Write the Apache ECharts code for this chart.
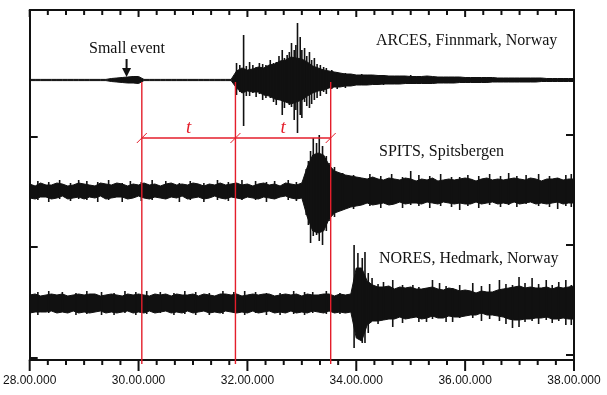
<!DOCTYPE html>
<html><head><meta charset="utf-8">
<script src="https://cdn.jsdelivr.net/npm/echarts@6/dist/echarts.min.js"></script>
<style>html,body{margin:0;padding:0;background:#fff}#c{width:607px;height:395px}</style>
</head><body><div id="c"></div>
<script>
// ---- data ----
const TICK_LABELS = ['28.00.000','30.00.000','32.00.000','34.00.000','36.00.000','38.00.000'];
const MAJOR_TICKS = [28, 30, 32, 34, 36, 38];
const MINOR_TICKS = [28.333,28.667,29,29.333,29.667,30.333,30.667,31,31.333,31.667,32.333,32.667,33,33.333,33.667,
  34.333,34.667,35,35.333,35.667,36.333,36.667,37,37.333,37.667];
const STATIONS = ['ARCES, Finnmark, Norway','SPITS, Spitsbergen','NORES, Hedmark, Norway'];
const EVENT_LABEL = 'Small event';
const TIME_START = 28, TIME_STEP = 0.1;          // sample grid of the envelopes
const OFFSETS = [280, 169, 57];                   // trace baselines (amplitude units)

// envelopes (amplitude above / below the baseline), one value per 0.1 time unit
const ARCES_UP = [0.6,0.6,0.6,0.6,0.6,0.6,0.6,0.6,0.6,0.6,0.6,0.6,0.6,0.6,0.6,
  1.5,2,2.5,3,3.5,3.5,
  0.6,0.6,0.6,0.6,0.6,0.6,0.6,0.6,0.6,0.6,0.6,0.6,0.6,0.6,0.6,0.6,0.6,
  9,12,10,11,13,12,15,16,19,20,23,22,21,18,14,12,10,9,8,7,6,6,5,
  5,5,5,4.5,4.5,4,4,4,4,3.5,3.5,3.5,4,3.5,3,3,3,3,3,2.5,2.5,2.5,2.5,2.5,2.5,2,2,2,2,2,2,2,2,2,1.5,1.5,1.5,1.5,1.5,1.5];
const ARCES_DN = [0.6,0.6,0.6,0.6,0.6,0.6,0.6,0.6,0.6,0.6,0.6,0.6,0.6,0.6,0.6,
  1.5,2,2.5,3,3,3.5,
  0.6,0.6,0.6,0.6,0.6,0.6,0.6,0.6,0.6,0.6,0.6,0.6,0.6,0.6,0.6,0.6,0.6,
  8,13,11,12,12,15,16,19,20,22,24,22,20,16,13,11,10,8,7,7,6,6,5,
  5,5,4.5,4.5,4,4,4,4,3.5,3.5,3.5,3.5,3.5,3.5,3,3,3,3,2.5,2.5,2.5,2.5,2.5,2.5,2,2,2,2,2,2,2,2,2,1.5,1.5,1.5,1.5,1.5,1.5,1.5];
const SPITS_UP = [7,5,8,6,6,8,7,5,6,8,7,6,5,8,7,6,8,7,5,7,6,8,6,7,5,7,8,6,7,6,8,7,5,7,6,8,6,7,8,6,7,5,7,8,6,7,5,8,7,6,8,
  24,36,38,36,26,20,18,16,15,14,
  13,12,14,12,11,13,12,11,13,12,10,12,11,13,10,11,12,11,12,13,12,10,12,13,11,12,11,12,13,12,11,13,12,10,12,12,13,11,12,12];
const SPITS_DN = [7,8,6,6,8,7,5,8,7,6,8,6,7,5,8,7,6,6,8,7,5,7,8,6,7,8,6,7,5,8,7,6,8,7,5,7,8,6,7,8,6,7,8,6,7,8,6,5,7,8,7,
  26,40,42,40,28,22,20,18,16,15,
  14,12,14,13,12,14,13,11,13,12,12,13,11,12,13,11,12,13,12,13,13,11,13,12,11,13,12,13,11,13,12,11,13,12,13,12,11,13,12,12];
const NORES_UP = [8,9,7,8,9,8,9,7,8,9,8,9,9,7,8,9,8,7,9,8,9,8,7,9,8,9,7,9,8,8,9,7,9,8,7,9,9,8,9,7,8,9,8,9,9,7,8,9,8,9,7,9,8,8,9,9,7,9,8,9,
  35,35,22,
  18,16,16,17,14,16,15,16,14,14,15,16,14,13,15,14,12,13,
  12,10,12,11,11,13,14,
  15,16,17,15,16,15,
  15,16,14,16,15,16,17];
const NORES_DN = [10,9,9,9,8,10,9,10,8,10,9,10,9,8,10,9,10,9,8,10,9,10,8,10,9,8,10,9,10,8,10,9,8,10,9,10,8,9,10,9,10,8,10,9,8,10,9,10,8,10,9,10,8,9,10,8,10,9,10,9,
  35,38,22,
  18,18,17,16,16,14,16,15,14,16,15,13,15,15,13,14,14,13,
  12,12,10,12,12,13,14,
  16,17,17,16,16,15,
  15,14,16,16,15,16,16];

// individual peaks: [time, amplitude up, amplitude down]
const ARCES_PEAKS = [[31.80,17,15],[31.86,15,12],[31.93,45,46],[31.98,14,16],[32.04,18,16],[32.10,15,13],[32.16,13,17],
  [32.22,17,14],[32.28,16,20],[32.34,15,18],[32.42,20,18],[32.48,17,22],[32.53,18,25],[32.58,24,20],
  [32.64,30,35],[32.68,22,28],[32.73,25,22],[32.77,28,25],[32.81,37,27],[32.86,30,40],[32.89,35,30],[32.92,57,53],
  [32.97,43,35],[33.00,30,38],[33.05,32,22],[33.09,24,26],[33.14,28,28],[33.18,20,24],[33.23,22,20],[33.28,16,18],
  [33.34,15,16],[33.40,13,12],[33.45,12,14],[33.55,10,9],[33.65,8,9],[33.80,7,8],[34.1,6,5],[34.5,5,5],[35.0,5,4]];
const SPITS_PEAKS = [[28.15,10,9],[28.35,9,11],[28.55,11,8],[28.75,8,10],[28.9,11,8],[29.05,10,9],[29.25,9,11],
  [29.45,11,9],[29.7,8,11],[29.85,10,8],[30.05,9,10],[30.25,11,9],[30.5,10,8],[30.75,8,11],[30.95,10,9],
  [31.2,8,11],[31.45,11,9],[31.65,9,10],[31.9,11,9],[32.15,10,9],[32.35,9,11],[32.5,10,8],[32.75,11,9],[32.9,9,10],
  [33.08,22,24],[33.12,30,34],[33.16,40,52],[33.21,53,45],[33.27,48,44],[33.32,56,50],[33.38,45,54],[33.45,35,40],
  [33.5,28,30],[33.6,24,26],[33.75,18,17],[33.95,16,18],[34.25,17,15],[34.45,15,17],[34.65,17,14],[34.85,14,17],[35.0,20,14],
  [35.15,16,15],[35.35,15,17],[35.55,17,15],[35.75,14,16],[35.9,14,19],[36.05,16,15],[36.25,15,17],[36.45,17,14],
  [36.65,15,16],[36.8,18,14],[36.95,15,16],[37.12,16,13],[37.35,17,15],[37.55,15,16],[37.7,13,18],[37.85,16,15],[37.95,17,16]];
const NORES_PEAKS = [[28.15,11,12],[28.35,12,10],[28.6,11,9],[28.85,10,12],[29.05,12,11],[29.32,11,12],[29.55,10,12],
  [29.75,12,10],[29.95,11,12],[30.15,12,11],[30.4,11,10],[30.65,10,12],[30.85,12,11],[31.05,11,12],[31.3,10,12],
  [31.55,12,11],[31.75,11,10],[31.95,12,12],[32.15,11,10],[32.35,10,12],[32.6,10,12],[32.85,12,11],[33.05,11,12],
  [33.2,11,10],[33.45,12,11],[33.7,10,11],
  [33.96,58,45],[34.03,50,34],[34.11,45,40],[34.16,51,40],[34.22,30,30],
  [34.29,25,18],[34.4,19,21],[34.5,21,17],[34.67,23,24],[34.85,18,20],[35.04,18,15],[35.15,16,19],[35.29,15,19],
  [35.4,23,16],[35.53,20,15],[35.65,17,19],[35.77,15,19],[35.9,18,15],[36.14,20,15],[36.3,17,18],[36.45,19,16],
  [36.63,23,18],[36.75,19,21],[36.87,18,25],[36.99,26,24],[37.1,20,19],[37.23,25,18],[37.35,19,21],[37.49,23,17],
  [37.6,18,20],[37.72,21,18],[37.85,23,22],[37.95,18,22]];

// annotation values
const MARK_TIMES = [30.06, 31.78, 33.53];
const MARK_TOP = 278, MARK_BOTTOM = -4, MARK_LEVEL = 222;
const ARROW_TIME = 29.78, ARROW_TIP = 283, ARROW_TAIL = 301;
const Y_MIN = 0, Y_MAX = 350;

// ---- chart ----
const INK = '#111', RED = '#e41e2b';
function traceSeries(up, dn, off) {
  const data = up.map((u, i) => [TIME_START + i * TIME_STEP, u, dn[i]]);
  return {
    type: 'custom', coordinateSystem: 'cartesian2d', data, z: 2, silent: true,
    renderItem(params, api) {
      if (params.dataIndex !== 0) return null;
      const top = [], bot = [];
      for (let j = 0; j < data.length; j++) {
        top.push(api.coord([data[j][0], off + data[j][1]]));
        bot.push(api.coord([data[j][0], off - data[j][2]]));
      }
      return { type: 'polygon', shape: { points: top.concat(bot.reverse()) },
        style: { fill: INK, stroke: INK, lineWidth: 1 } };
    }
  };
}
function peakSeries(peaks, off) {
  return {
    type: 'custom', coordinateSystem: 'cartesian2d', data: peaks, z: 3, silent: true,
    renderItem(params, api) {
      const t = api.value(0);
      const a = api.coord([t, off + api.value(1)]), b = api.coord([t, off - api.value(2)]);
      return { type: 'line', shape: { x1: a[0], y1: a[1], x2: b[0], y2: b[1] },
        style: { stroke: INK, lineWidth: 1.6 } };
    }
  };
}
// time-axis ticks (bottom: outward, top: inward) drawn at the tick values through the x scale
function tickSeries(ticks, lenBottom, lenTop) {
  return {
    type: 'custom', coordinateSystem: 'cartesian2d', data: ticks.map(v => [v, Y_MIN]), z: 6, silent: true, clip: false,
    renderItem(params, api) {
      const b = api.coord([api.value(0), Y_MIN]), t = api.coord([api.value(0), Y_MAX]);
      return { type: 'group', children: [
        { type: 'line', shape: { x1: b[0], y1: b[1], x2: b[0], y2: b[1] + lenBottom }, style: { stroke: INK, lineWidth: 2 } },
        { type: 'line', shape: { x1: t[0], y1: t[1], x2: t[0], y2: t[1] + lenTop }, style: { stroke: INK, lineWidth: 2 } }
      ] };
    }
  };
}
const annotSeries = {
  type: 'custom', coordinateSystem: 'cartesian2d', data: [[MARK_TIMES[0], MARK_LEVEL]], z: 5, silent: true, clip: false,
  renderItem(params, api) {
    const ch = [];
    MARK_TIMES.forEach(t => {
      const a = api.coord([t, MARK_TOP]), b = api.coord([t, MARK_BOTTOM]), c = api.coord([t, MARK_LEVEL]);
      ch.push({ type: 'line', shape: { x1: a[0], y1: a[1], x2: b[0], y2: b[1] }, style: { stroke: RED, lineWidth: 1.4 } });
      ch.push({ type: 'line', shape: { x1: c[0] - 5, y1: c[1] + 5, x2: c[0] + 5, y2: c[1] - 5 }, style: { stroke: RED, lineWidth: 1 } });
    });
    const l = api.coord([MARK_TIMES[0], MARK_LEVEL]), r = api.coord([MARK_TIMES[MARK_TIMES.length - 1], MARK_LEVEL]);
    ch.push({ type: 'line', shape: { x1: l[0], y1: l[1], x2: r[0], y2: r[1] }, style: { stroke: RED, lineWidth: 1.4 } });
    for (let i = 0; i < MARK_TIMES.length - 1; i++) {
      const m = api.coord([(MARK_TIMES[i] + MARK_TIMES[i + 1]) / 2, MARK_LEVEL]);
      ch.push({ type: 'text', x: m[0], y: m[1] - 1, style: { text: 't', fill: RED, fontFamily: 'Liberation Serif',
        fontStyle: 'italic', fontSize: 19, align: 'center', verticalAlign: 'bottom' } });
    }
    const tip = api.coord([ARROW_TIME, ARROW_TIP]), tail = api.coord([ARROW_TIME, ARROW_TAIL]);
    ch.push({ type: 'line', shape: { x1: tail[0], y1: tail[1], x2: tip[0], y2: tip[1] - 8 }, style: { stroke: INK, lineWidth: 2 } });
    ch.push({ type: 'polygon', shape: { points: [[tip[0] - 4.5, tip[1] - 9], [tip[0] + 4.5, tip[1] - 9], [tip[0], tip[1]]] }, style: { fill: INK } });
    return { type: 'group', children: ch };
  }
};

const lineOn = { show: true, onZero: false, lineStyle: { color: INK, width: 2 } };
const option = {
  animation: false,
  backgroundColor: '#fff',
  grid: { left: 27, right: 33, top: 10, bottom: 35 },
  xAxis: [
    { type: 'value', position: 'bottom', min: 28, max: 38, interval: 2, axisLine: lineOn,
      axisTick: { show: false }, splitLine: { show: false },
      axisLabel: { show: true, margin: 15, color: INK, fontFamily: 'Liberation Sans', fontSize: 12,
        formatter: v => TICK_LABELS[MAJOR_TICKS.indexOf(Math.round(v))] } },
    { type: 'value', position: 'top', min: 28, max: 38, interval: 2, axisLine: lineOn,
      axisTick: { show: false }, splitLine: { show: false }, axisLabel: { show: false } }
  ],
  yAxis: [
    { type: 'value', position: 'left', min: Y_MIN, max: Y_MAX, axisLine: lineOn,
      axisTick: { show: true, inside: true, length: 8, customValues: [2, 113, 223], lineStyle: { color: INK, width: 2 } },
      splitLine: { show: false }, axisLabel: { show: false } },
    { type: 'value', position: 'right', min: Y_MIN, max: Y_MAX, axisLine: lineOn,
      axisTick: { show: true, inside: true, length: 8, customValues: [5, 115, 225], lineStyle: { color: INK, width: 2 } },
      splitLine: { show: false }, axisLabel: { show: false } }
  ],
  graphic: [
    { type: 'text', left: 376, top: 33, style: { text: STATIONS[0], fill: INK, fontFamily: 'Liberation Serif', fontSize: 16 } },
    { type: 'text', left: 379, top: 144, style: { text: STATIONS[1], fill: INK, fontFamily: 'Liberation Serif', fontSize: 16 } },
    { type: 'text', left: 379, top: 251, style: { text: STATIONS[2], fill: INK, fontFamily: 'Liberation Serif', fontSize: 16 } },
    { type: 'text', left: 89, top: 41, style: { text: EVENT_LABEL, fill: INK, fontFamily: 'Liberation Serif', fontSize: 16 } }
  ],
  series: [
    traceSeries(ARCES_UP, ARCES_DN, OFFSETS[0]),
    traceSeries(SPITS_UP, SPITS_DN, OFFSETS[1]),
    traceSeries(NORES_UP, NORES_DN, OFFSETS[2]),
    peakSeries(ARCES_PEAKS, OFFSETS[0]),
    peakSeries(SPITS_PEAKS, OFFSETS[1]),
    peakSeries(NORES_PEAKS, OFFSETS[2]),
    tickSeries(MAJOR_TICKS, 11, 7),
    tickSeries(MINOR_TICKS, 5, 5),
    annotSeries
  ]
};
const chart = echarts.init(document.getElementById('c'), null, { renderer: 'canvas' });
chart.setOption(option);
</script></body></html>
